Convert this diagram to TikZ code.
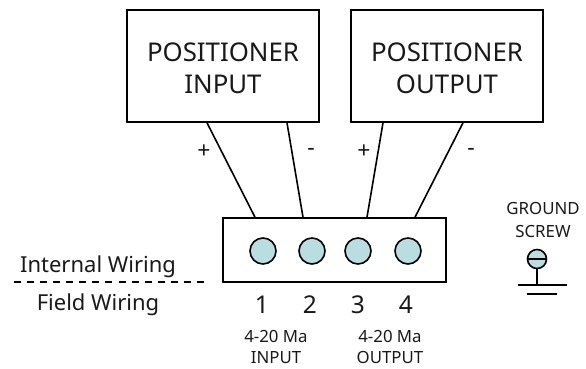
\documentclass[tikz,border=0pt]{standalone}
\usepackage{fontspec}
\setmainfont{Noto Sans}
\definecolor{term}{HTML}{B9DDE0}
\begin{document}
\begin{tikzpicture}[x=1pt,y=-1pt,
  ln/.style={line width=1.6pt,black},
  boxn/.style={draw,ln,fill=white,inner sep=0pt,minimum width=192pt,minimum height=112pt},
  boxt/.style={inner sep=0pt,align=center,font=\fontsize{25.8}{32}\selectfont,text=black!90},
  tbox/.style={draw,ln,inner sep=0pt,minimum width=223pt,minimum height=64pt},
  screw/.style={circle,draw,ln,fill=term,inner sep=0pt,minimum size=26pt},
  big/.style={font=\fontsize{22}{24}\selectfont,inner sep=0pt,text=black!90},
  digit/.style={font=\fontsize{24.5}{24}\selectfont,inner sep=0pt,text=black!90},
  sign/.style={font=\fontsize{23}{24}\selectfont,inner sep=0pt,text=black!90},
  mid/.style={font=\fontsize{16.8}{21}\selectfont,inner sep=0pt,align=center,text=black!90},
  small/.style={font=\fontsize{16.8}{23}\selectfont,inner sep=0pt,align=center,text=black!90}]
\useasboundingbox (0,0) rectangle (586,368);
\node[boxn] (pin) at (223,66) {};
\node[boxn] (pout) at (447,66) {};
\node[boxt] (pint) at (223,68.5) {POSITIONER\\INPUT};
\node[boxt] (poutt) at (447,68.5) {POSITIONER\\OUTPUT};
\node[tbox] (tb) at (334.5,250) {};
\node[screw] (t1) at (263,251) {};
\node[screw] (t2) at (312,251) {};
\node[screw] (t3) at (358,251) {};
\node[screw] (t4) at (408,251) {};
\draw[ln] ([xshift=-16pt]pin.south) -- ([xshift=-79.5pt]tb.north);
\draw[ln] ([xshift=64pt]pin.south) -- ([xshift=-31.5pt]tb.north);
\draw[ln] ([xshift=-64pt]pout.south) -- ([xshift=32.5pt]tb.north);
\draw[ln] ([xshift=16pt]pout.south) -- ([xshift=80.5pt]tb.north);
\node[sign] (lp1) at (204,152) {+};
\node[sign] (lm1) at (311,152) {-};
\node[sign] (lp2) at (364,152) {+};
\node[sign] (lm2) at (471,152) {-};
\node[digit] (n1) at (262,305) {1};
\node[digit] (n2) at (310,305) {2};
\node[digit] (n3) at (358,305) {3};
\node[digit] (n4) at (406,305) {4};
\node[mid] (a1) at (276,346.5) {4-20 Ma\\INPUT};
\node[mid] (a2) at (390,346.5) {4-20 Ma\\OUTPUT};
\node[big,anchor=base] (iw) at (98,272) {Internal Wiring};
\node[big,anchor=base] (fw) at (98,310) {Field Wiring};
\coordinate (dl) at (14,282);
\coordinate (dr) at (204,282);
\draw[line width=1.3pt,dash pattern=on 7pt off 6.07pt] (dl) -- (dr);
\node[small] (gs) at (543,219.5) {GROUND\\SCREW};
\node[circle,draw,ln,fill=term,inner sep=0pt,minimum size=19pt] (gc) at (537,259) {};
\draw[ln] (gc.west) -- (gc.east);
\coordinate (g1) at (518,285);
\coordinate (g2) at (567,285);
\coordinate (g3) at (527,294);
\coordinate (g4) at (557,294);
\draw[ln] (g1) -- (g2);
\draw[ln] (g3) -- (g4);
\draw[ln] (gc.south) -- (gc.south |- g1);
\end{tikzpicture}
\end{document}
